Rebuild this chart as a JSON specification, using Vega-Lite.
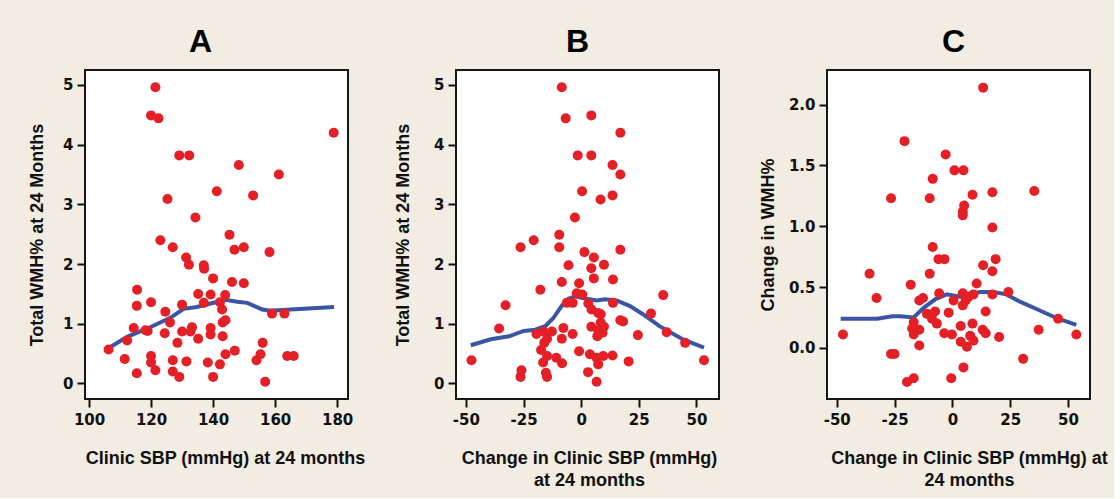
{
  "$schema": "https://vega.github.io/schema/vega-lite/v6.json",
  "background": "#f2ece2",
  "padding": {"left": 27, "top": 25, "right": 5, "bottom": 8},
  "bounds": "flush",
  "spacing": 108,
  "hconcat": [
    {
      "width": 263, "height": 329,
      "view": {"fill": "white", "stroke": "#151515", "strokeWidth": 2},
      "title": {"text": "A", "dx": -16, "font": "Liberation Sans", "fontSize": 32, "fontWeight": "bold", "color": "black", "anchor": "middle", "frame": "group", "offset": 10},
      "data": {"values": [
      {"x":121.4,"y":4.96},{"x":120.0,"y":4.49},{"x":122.4,"y":4.44},{"x":178.9,"y":4.2},{"x":129.1,"y":3.82},{"x":132.3,"y":3.82},{"x":148.3,"y":3.66},{"x":161.2,"y":3.5},{"x":141.2,"y":3.22},{"x":152.9,"y":3.15},{"x":125.3,"y":3.09},{"x":134.3,"y":2.78},{"x":145.3,"y":2.49},{"x":146.9,"y":2.24},{"x":149.9,"y":2.28},{"x":158.2,"y":2.2},{"x":123.0,"y":2.4},{"x":127.0,"y":2.28},{"x":131.3,"y":2.11},{"x":132.2,"y":1.99},{"x":137.0,"y":1.98},{"x":137.1,"y":1.92},{"x":140.0,"y":1.76},{"x":146.1,"y":1.7},{"x":149.9,"y":1.68},{"x":115.5,"y":1.57},{"x":115.4,"y":1.3},{"x":120.0,"y":1.36},{"x":124.6,"y":1.2},{"x":130.0,"y":1.32},{"x":135.2,"y":1.5},{"x":139.2,"y":1.49},{"x":143.9,"y":1.48},{"x":137.0,"y":1.35},{"x":142.2,"y":1.36},{"x":142.9,"y":1.24},{"x":143.1,"y":1.02},{"x":144.0,"y":1.06},{"x":159.0,"y":1.17},{"x":163.0,"y":1.17},{"x":114.4,"y":0.93},{"x":118.9,"y":0.88},{"x":118.2,"y":0.89},{"x":126.1,"y":1.02},{"x":124.4,"y":0.84},{"x":112.3,"y":0.72},{"x":106.3,"y":0.57},{"x":130.0,"y":0.87},{"x":132.7,"y":0.87},{"x":133.2,"y":0.94},{"x":128.5,"y":0.68},{"x":135.2,"y":0.75},{"x":139.2,"y":0.93},{"x":139.2,"y":0.82},{"x":143.1,"y":0.79},{"x":111.5,"y":0.41},{"x":120.0,"y":0.46},{"x":120.0,"y":0.35},{"x":121.4,"y":0.22},{"x":115.4,"y":0.17},{"x":127.0,"y":0.39},{"x":127.0,"y":0.2},{"x":129.1,"y":0.11},{"x":131.4,"y":0.37},{"x":138.3,"y":0.35},{"x":142.2,"y":0.32},{"x":140.0,"y":0.11},{"x":144.0,"y":0.49},{"x":147.0,"y":0.55},{"x":156.0,"y":0.68},{"x":155.3,"y":0.49},{"x":154.0,"y":0.39},{"x":163.9,"y":0.46},{"x":166.0,"y":0.46},{"x":156.8,"y":0.03}
      ]},
      "layer": [
        {
          "mark": {"type": "rect", "fill": "white", "stroke": "#151515", "strokeWidth": 2},
          "encoding": {
            "x": {"datum": 98.7, "type": "quantitative", "scale": {"domain": [98.7, 183.5], "nice": false, "zero": false},
                  "axis": {"title": "Clinic SBP (mmHg) at 24 months", "values": [100, 120, 140, 160, 180], "format": "d", "titleX": 140, "grid": false, "domain": false,
                           "tickSize": 8, "tickWidth": 2, "tickColor": "#111111", "labelFont": "DejaVu Sans", "labelFontSize": 15, "labelFontWeight": "bold", "labelColor": "#111111", "labelPadding": 5,
                           "titleFont": "Liberation Sans", "titleFontSize": 18, "titleFontWeight": "bold", "titleColor": "#111111", "titlePadding": 22, "titleLineHeight": 22}},
            "x2": {"datum": 183.5},
            "y": {"datum": -0.26, "type": "quantitative", "scale": {"domain": [-0.26, 5.25], "nice": false, "zero": false},
                  "axis": {"title": "Total WMH% at 24 Months", "values": [0, 1, 2, 3, 4, 5], "format": "d", "grid": false, "domain": false,
                           "tickSize": 8, "tickWidth": 2, "tickColor": "#111111", "labelFont": "DejaVu Sans", "labelFontSize": 15, "labelFontWeight": "bold", "labelColor": "#111111", "labelPadding": 4,
                           "titleFont": "Liberation Sans", "titleFontSize": 18, "titleFontWeight": "bold", "titleColor": "#111111", "titlePadding": 16}},
            "y2": {"datum": 5.25}
          }
        },
        {
          "data": {"values": [
            {"x":106.9,"y":0.61},{"x":112.3,"y":0.78},{"x":119.2,"y":0.93},{"x":126.2,"y":1.1},{"x":130.5,"y":1.25},{"x":134.8,"y":1.28},{"x":139.2,"y":1.34},{"x":144.0,"y":1.4},{"x":147.8,"y":1.37},{"x":151.0,"y":1.35},{"x":155.8,"y":1.24},{"x":158.5,"y":1.22},{"x":165.0,"y":1.24},{"x":179.0,"y":1.28}
          ]},
          "mark": {"type": "line", "color": "#3b55a5", "strokeWidth": 4},
          "encoding": {
            "x": {"field": "x", "type": "quantitative"},
            "y": {"field": "y", "type": "quantitative"}
          }
        },
        {
          "mark": {"type": "circle", "color": "#e41f26", "size": 100, "opacity": 1},
          "encoding": {
            "x": {"field": "x", "type": "quantitative"},
            "y": {"field": "y", "type": "quantitative"}
          }
        }
      ]
    },
    {
      "width": 263, "height": 329,
      "view": {"fill": "white", "stroke": "#151515", "strokeWidth": 2},
      "title": {"text": "B", "dx": -10, "font": "Liberation Sans", "fontSize": 32, "fontWeight": "bold", "color": "black", "anchor": "middle", "frame": "group", "offset": 10},
      "data": {"values": [
      {"x":-8.4,"y":4.96},{"x":-6.7,"y":4.44},{"x":4.4,"y":4.49},{"x":17.0,"y":4.2},{"x":-1.5,"y":3.82},{"x":4.4,"y":3.82},{"x":13.6,"y":3.66},{"x":17.0,"y":3.5},{"x":0.4,"y":3.22},{"x":8.4,"y":3.08},{"x":13.6,"y":3.15},{"x":-2.7,"y":2.78},{"x":-9.5,"y":2.49},{"x":-9.5,"y":2.28},{"x":-20.6,"y":2.4},{"x":-26.3,"y":2.28},{"x":17.0,"y":2.24},{"x":1.4,"y":2.2},{"x":5.5,"y":2.11},{"x":-5.5,"y":1.98},{"x":4.4,"y":1.93},{"x":9.9,"y":1.99},{"x":5.5,"y":1.76},{"x":13.8,"y":1.74},{"x":-8.4,"y":1.7},{"x":-0.9,"y":1.68},{"x":-17.7,"y":1.57},{"x":-1.9,"y":1.51},{"x":0.5,"y":1.49},{"x":-6.2,"y":1.35},{"x":-3.7,"y":1.35},{"x":3.1,"y":1.34},{"x":13.8,"y":1.35},{"x":4.5,"y":1.24},{"x":7.4,"y":1.18},{"x":8.5,"y":1.16},{"x":8.5,"y":1.02},{"x":17.0,"y":1.06},{"x":18.2,"y":1.04},{"x":30.3,"y":1.17},{"x":35.6,"y":1.48},{"x":-32.8,"y":1.31},{"x":-35.6,"y":0.92},{"x":-19.4,"y":0.83},{"x":-16.3,"y":0.87},{"x":-12.7,"y":0.87},{"x":-14.8,"y":0.75},{"x":-16.0,"y":0.68},{"x":-7.7,"y":0.93},{"x":-8.4,"y":0.75},{"x":-3.7,"y":0.83},{"x":4.4,"y":0.95},{"x":9.9,"y":0.95},{"x":7.4,"y":0.89},{"x":7.0,"y":0.79},{"x":9.3,"y":0.85},{"x":24.6,"y":0.81},{"x":37.1,"y":0.86},{"x":45.1,"y":0.68},{"x":-47.6,"y":0.39},{"x":53.3,"y":0.39},{"x":-17.4,"y":0.56},{"x":-14.8,"y":0.46},{"x":-16.5,"y":0.35},{"x":-10.8,"y":0.43},{"x":-8.3,"y":0.34},{"x":-0.9,"y":0.54},{"x":3.8,"y":0.49},{"x":6.7,"y":0.43},{"x":9.6,"y":0.46},{"x":13.6,"y":0.47},{"x":7.4,"y":0.32},{"x":20.6,"y":0.37},{"x":-25.9,"y":0.22},{"x":-26.3,"y":0.11},{"x":-15.3,"y":0.18},{"x":-14.8,"y":0.11},{"x":3.0,"y":0.19},{"x":6.7,"y":0.03}
      ]},
      "layer": [
        {
          "mark": {"type": "rect", "fill": "white", "stroke": "#151515", "strokeWidth": 2},
          "encoding": {
            "x": {"datum": -54.3, "type": "quantitative", "scale": {"domain": [-54.3, 59.8], "nice": false, "zero": false},
                  "axis": {"title": ["Change in Clinic SBP (mmHg)", "at 24 months"], "values": [-50, -25, 0, 25, 50], "labelExpr": "datum.value < 0 ? '-' + abs(datum.value) : '' + datum.value", "titleX": 133, "grid": false, "domain": false,
                           "tickSize": 8, "tickWidth": 2, "tickColor": "#111111", "labelFont": "DejaVu Sans", "labelFontSize": 15, "labelFontWeight": "bold", "labelColor": "#111111", "labelPadding": 5,
                           "titleFont": "Liberation Sans", "titleFontSize": 18, "titleFontWeight": "bold", "titleColor": "#111111", "titlePadding": 22, "titleLineHeight": 22}},
            "x2": {"datum": 59.8},
            "y": {"datum": -0.26, "type": "quantitative", "scale": {"domain": [-0.26, 5.25], "nice": false, "zero": false},
                  "axis": {"title": "Total WMH% at 24 Months", "values": [0, 1, 2, 3, 4, 5], "format": "d", "grid": false, "domain": false,
                           "tickSize": 8, "tickWidth": 2, "tickColor": "#111111", "labelFont": "DejaVu Sans", "labelFontSize": 15, "labelFontWeight": "bold", "labelColor": "#111111", "labelPadding": 4,
                           "titleFont": "Liberation Sans", "titleFontSize": 18, "titleFontWeight": "bold", "titleColor": "#111111", "titlePadding": 21}},
            "y2": {"datum": 5.25}
          }
        },
        {
          "data": {"values": [
            {"x":-47.9,"y":0.64},{"x":-39.2,"y":0.74},{"x":-31.3,"y":0.79},{"x":-24.9,"y":0.88},{"x":-19.9,"y":0.9},{"x":-15.6,"y":0.96},{"x":-12.0,"y":1.1},{"x":-8.4,"y":1.3},{"x":-5.5,"y":1.42},{"x":-2.7,"y":1.46},{"x":2.4,"y":1.42},{"x":6.7,"y":1.39},{"x":10.3,"y":1.41},{"x":15.3,"y":1.39},{"x":21.0,"y":1.3},{"x":26.8,"y":1.16},{"x":34.0,"y":0.96},{"x":44.0,"y":0.74},{"x":53.3,"y":0.6}
          ]},
          "mark": {"type": "line", "color": "#3b55a5", "strokeWidth": 4},
          "encoding": {
            "x": {"field": "x", "type": "quantitative"},
            "y": {"field": "y", "type": "quantitative"}
          }
        },
        {
          "mark": {"type": "circle", "color": "#e41f26", "size": 100, "opacity": 1},
          "encoding": {
            "x": {"field": "x", "type": "quantitative"},
            "y": {"field": "y", "type": "quantitative"}
          }
        }
      ]
    },
    {
      "width": 263, "height": 329,
      "view": {"fill": "white", "stroke": "#151515", "strokeWidth": 2},
      "title": {"text": "C", "dx": -5, "font": "Liberation Sans", "fontSize": 32, "fontWeight": "bold", "color": "black", "anchor": "middle", "frame": "group", "offset": 10},
      "data": {"values": [
      {"x":13.3,"y":2.14},{"x":-20.7,"y":1.7},{"x":-2.9,"y":1.59},{"x":0.9,"y":1.46},{"x":4.8,"y":1.46},{"x":-8.5,"y":1.39},{"x":-26.5,"y":1.23},{"x":-9.8,"y":1.23},{"x":8.7,"y":1.26},{"x":17.3,"y":1.28},{"x":35.4,"y":1.29},{"x":5.1,"y":1.17},{"x":4.5,"y":1.12},{"x":4.5,"y":1.09},{"x":17.3,"y":0.99},{"x":-8.5,"y":0.83},{"x":-6.0,"y":0.73},{"x":-3.4,"y":0.73},{"x":-35.8,"y":0.61},{"x":-32.8,"y":0.41},{"x":-9.8,"y":0.61},{"x":13.3,"y":0.68},{"x":18.7,"y":0.73},{"x":17.3,"y":0.63},{"x":-18.0,"y":0.52},{"x":10.5,"y":0.53},{"x":24.2,"y":0.46},{"x":17.3,"y":0.44},{"x":-5.7,"y":0.45},{"x":4.5,"y":0.45},{"x":7.0,"y":0.42},{"x":9.1,"y":0.44},{"x":5.8,"y":0.39},{"x":4.5,"y":0.35},{"x":0.5,"y":0.39},{"x":-14.3,"y":0.39},{"x":-12.7,"y":0.41},{"x":-7.5,"y":0.3},{"x":-11.0,"y":0.28},{"x":-8.8,"y":0.24},{"x":-6.7,"y":0.2},{"x":-1.6,"y":0.29},{"x":14.4,"y":0.3},{"x":-16.7,"y":0.21},{"x":-17.4,"y":0.16},{"x":-14.3,"y":0.15},{"x":-16.7,"y":0.11},{"x":-14.3,"y":0.02},{"x":-3.5,"y":0.12},{"x":-0.2,"y":0.11},{"x":3.6,"y":0.18},{"x":8.7,"y":0.2},{"x":7.7,"y":0.1},{"x":9.1,"y":0.06},{"x":3.6,"y":0.05},{"x":6.3,"y":0.01},{"x":13.1,"y":0.15},{"x":14.4,"y":0.12},{"x":20.2,"y":0.09},{"x":37.3,"y":0.15},{"x":45.7,"y":0.24},{"x":-47.3,"y":0.11},{"x":53.6,"y":0.11},{"x":-26.5,"y":-0.05},{"x":-25.0,"y":-0.05},{"x":30.6,"y":-0.09},{"x":4.8,"y":-0.16},{"x":-19.6,"y":-0.28},{"x":-16.7,"y":-0.25},{"x":-0.5,"y":-0.25}
      ]},
      "layer": [
        {
          "mark": {"type": "rect", "fill": "white", "stroke": "#151515", "strokeWidth": 2},
          "encoding": {
            "x": {"datum": -54.2, "type": "quantitative", "scale": {"domain": [-54.2, 59.5], "nice": false, "zero": false},
                  "axis": {"title": ["Change in Clinic SBP (mmHg) at", "24 months"], "values": [-50, -25, 0, 25, 50], "labelExpr": "datum.value < 0 ? '-' + abs(datum.value) : '' + datum.value", "titleX": 142, "grid": false, "domain": false,
                           "tickSize": 8, "tickWidth": 2, "tickColor": "#111111", "labelFont": "DejaVu Sans", "labelFontSize": 15, "labelFontWeight": "bold", "labelColor": "#111111", "labelPadding": 5,
                           "titleFont": "Liberation Sans", "titleFontSize": 18, "titleFontWeight": "bold", "titleColor": "#111111", "titlePadding": 22, "titleLineHeight": 22}},
            "x2": {"datum": 59.5},
            "y": {"datum": -0.42, "type": "quantitative", "scale": {"domain": [-0.42, 2.285], "nice": false, "zero": false},
                  "axis": {"title": "Change in WMH%", "values": [0, 0.5, 1, 1.5, 2], "format": ".1f", "grid": false, "domain": false,
                           "tickSize": 8, "tickWidth": 2, "tickColor": "#111111", "labelFont": "DejaVu Sans", "labelFontSize": 15, "labelFontWeight": "bold", "labelColor": "#111111", "labelPadding": 4,
                           "titleFont": "Liberation Sans", "titleFontSize": 18, "titleFontWeight": "bold", "titleColor": "#111111", "titlePadding": 11}},
            "y2": {"datum": 2.285}
          }
        },
        {
          "data": {"values": [
            {"x":-48.3,"y":0.24},{"x":-32.5,"y":0.24},{"x":-26.0,"y":0.26},{"x":-22.5,"y":0.26},{"x":-16.7,"y":0.25},{"x":-12.4,"y":0.33},{"x":-7.4,"y":0.4},{"x":-2.4,"y":0.44},{"x":3.4,"y":0.42},{"x":12.0,"y":0.46},{"x":17.7,"y":0.46},{"x":23.4,"y":0.44},{"x":29.2,"y":0.38},{"x":36.4,"y":0.32},{"x":45.7,"y":0.24},{"x":53.6,"y":0.19}
          ]},
          "mark": {"type": "line", "color": "#3b55a5", "strokeWidth": 4},
          "encoding": {
            "x": {"field": "x", "type": "quantitative"},
            "y": {"field": "y", "type": "quantitative"}
          }
        },
        {
          "mark": {"type": "circle", "color": "#e41f26", "size": 100, "opacity": 1},
          "encoding": {
            "x": {"field": "x", "type": "quantitative"},
            "y": {"field": "y", "type": "quantitative"}
          }
        }
      ]
    }
  ]
}
